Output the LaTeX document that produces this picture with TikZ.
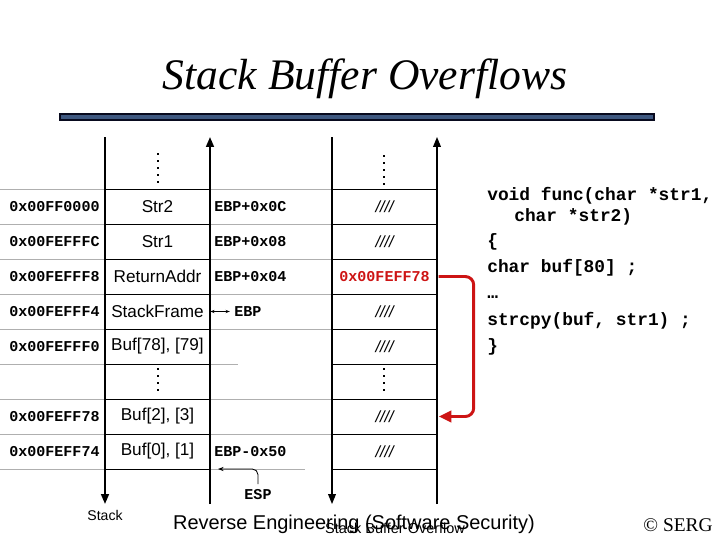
\documentclass[tikz,border=0pt]{standalone}
\usepackage{fontspec}
\setmainfont{Liberation Serif}
\setsansfont{Liberation Sans}
\setmonofont{Liberation Mono}
\usetikzlibrary{positioning,arrows.meta}

\definecolor{barblue}{RGB}{62,88,128}
\definecolor{barnavy}{RGB}{8,10,30}
\definecolor{rowgray}{RGB}{175,175,175}
\definecolor{ptrred}{RGB}{205,20,20}

\begin{document}
\begin{tikzpicture}[x=0.025cm, y=-0.025cm,
    cell/.style={inner sep=0pt, minimum width=2.625cm, minimum height=0.875cm, font=\sffamily\fontsize{12.2}{14}\selectfont},
    slash/.style={cell, font=\sffamily\itshape\fontsize{11.5}{13}\selectfont},
    addr/.style={anchor=west, inner sep=0pt, font=\ttfamily\bfseries\fontsize{10.7}{12}\selectfont},
    code/.style={anchor=base west, inner sep=0pt, font=\ttfamily\bfseries\fontsize{12.7}{15}\selectfont},
    stackline/.style={line width=1.4pt},
    memline/.style={line width=0.8pt},
    tip/.style={-{Triangle[length=7pt, width=5.5pt]}},
    dots/.style={line width=1.4pt, dash pattern=on 1.4pt off 3.6pt},
]
\useasboundingbox (0,0) rectangle (720,540);

\node[anchor=base, font=\itshape\fontsize{31}{36}\selectfont] (title) at (365,89) {Stack Buffer Overflows};
\draw[barnavy, fill=barblue, line width=1.4pt] (60,114) rectangle (654,120);

\foreach \y in {189,224,259,294,329,399,434}
  \draw[rowgray] (0,\y) -- (332,\y);
\draw[rowgray] (0,364) -- (238,364);
\draw[rowgray] (0,469) -- (305,469);
\foreach \y in {189,224,...,469} {
  \draw (105,\y) -- (210,\y);
  \draw (332,\y) -- (437,\y);
}

\coordinate (stktop) at (105,137);
\coordinate (stkbot) at (105,504);
\coordinate (ebptop) at (210,137);
\coordinate (ebpbot) at (210,504);
\coordinate (buftop) at (332,137);
\coordinate (bufbot) at (332,504);
\coordinate (ovftop) at (437,137);
\coordinate (ovfbot) at (437,504);
\draw[stackline, tip] (stktop) -- (stkbot);
\draw[stackline, tip] (ebpbot) -- (ebptop);
\draw[memline, tip] (buftop) -- (bufbot);
\draw[memline, tip] (ovfbot) -- (ovftop);

\draw[dots] (158,153) -- (158,187);
\draw[dots] (384,155) -- (384,187);
\draw[dots] (158,368) -- (158,396);
\draw[dots] (384,368) -- (384,396);

\foreach \i/\txt in {1/Str2, 2/Str1, 3/ReturnAddr, 4/StackFrame, 5/{Buf[78], [79]}, 6/{}, 7/{Buf[2], [3]}, 8/{Buf[0], [1]}}
  \node[cell] (l\i) at (157.5,171.5+35*\i) {\txt};

\foreach \i in {1,2,4,5,7,8}
  \node[slash] (r\i) at (384.5,171.5+35*\i) {////};
\node[cell, font=\ttfamily\bfseries\fontsize{10.7}{12}\selectfont, text=ptrred] (r3) at (384.5,276.5) {0x00FEFF78};
\node[cell] (r6) at (384.5,381.5) {};

\foreach \i/\a in {1/0x00FF0000, 2/0x00FEFFFC, 3/0x00FEFFF8, 4/0x00FEFFF4, 5/0x00FEFFF0, 7/0x00FEFF78, 8/0x00FEFF74}
  \node[addr] (a\i) at (9,171.5+35*\i) {\a};

\node[addr] (ebp1) at (214,206.5) {EBP+0x0C};
\node[addr] (ebp2) at (214,241.5) {EBP+0x08};
\node[addr] (ebp3) at (214,276.5) {EBP+0x04};
\node[addr] (ebp) at (234,311.5) {EBP};
\node[addr] (ebp8) at (214,451.5) {EBP-0x50};
\draw[{Stealth[length=3pt]}-{Stealth[length=3pt]}, line width=0.5pt] (l4.east) -- ([xshift=-3pt]ebp.west);

\node[addr, anchor=center] (esp) at (258,495) {ESP};
\coordinate (espend) at (218,469);
\draw[-{Stealth[length=4pt]}, line width=0.6pt, rounded corners=4pt, shorten <=4pt] (esp.north) |- (espend);

\draw[ptrred, line width=2.1pt, rounded corners=6pt, -{Triangle[length=9pt, width=8pt]}] ([xshift=1pt]r3.east) -- ++(35,0) |- ([xshift=1pt]r7.east);

\node[code] (c1) at (487,200) {void func(char *str1,};
\node[code] (c2) at (514,221) {char *str2)};
\node[code] (c3) at (487,246) {\{};
\node[code] (c4) at (487,272) {char buf[80] ;};
\node[code] (c5) at (487,298) {…};
\node[code] (c6) at (487,325) {strcpy(buf, str1) ;};
\node[code] (c7) at (487,351) {\}};

\node[font=\sffamily\fontsize{10}{12}\selectfont] (stk) at (105,515) {Stack};
\node[anchor=base, font=\sffamily\fontsize{14.2}{16}\selectfont] (footer) at (354,529) {Reverse Engineering (Software Security)};
\node[anchor=base, font=\sffamily\fontsize{10.3}{12}\selectfont] (sub) at (395,533) {Stack Buffer Overflow};
\node[anchor=base, font=\fontsize{13.8}{16}\selectfont] (serg) at (678,531) {© SERG};
\end{tikzpicture}
\end{document}
